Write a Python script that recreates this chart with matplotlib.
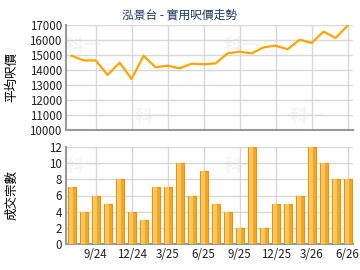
import matplotlib
matplotlib.use("Agg")
import matplotlib.pyplot as plt
import numpy as np

plt.rcParams['font.family'] = ['Noto Sans CJK TC', 'DejaVu Sans']

# monthly data, 7/24 .. 6/26
months = ['7/24', '8/24', '9/24', '10/24', '11/24', '12/24', '1/25', '2/25',
          '3/25', '4/25', '5/25', '6/25', '7/25', '8/25', '9/25', '10/25',
          '11/25', '12/25', '1/26', '2/26', '3/26', '4/26', '5/26', '6/26']
price = [14950, 14640, 14640, 13670, 14490, 13400, 14950, 14180,
         14290, 14110, 14420, 14380, 14440, 15110, 15220, 15110,
         15510, 15620, 15380, 16020, 15800, 16560, 16130, 16960]
deals = [7, 4, 6, 5, 8, 4, 3, 7, 7, 10, 6, 9,
         5, 4, 2, 12, 2, 5, 5, 6, 12, 10, 8, 8]
tick_labels = ['9/24', '12/24', '3/25', '6/25', '9/25', '12/25', '3/26', '6/26']

x = np.arange(len(months))
tick_pos = [months.index(t) for t in tick_labels]

fig = plt.figure(figsize=(3.6, 2.7), dpi=100)
ax1 = fig.add_axes([66/360, 1-130/270, 287/360, 105/270])
ax2 = fig.add_axes([66/360, 1-244/270, 287/360, 97/270])

grid_c = '#d8d8d8'
spine_c = '#999999'
tick_fs = 8.3

def style(ax):
    for s in ['top', 'right']:
        ax.spines[s].set_visible(False)
    for s in ['left', 'bottom']:
        ax.spines[s].set_color(spine_c)
        ax.spines[s].set_linewidth(1.5)
    ax.grid(True, color=grid_c, linewidth=1)
    ax.set_axisbelow(True)
    ax.tick_params(length=0, labelsize=tick_fs, colors='#222222', pad=3)
    ax.set_xlim(-0.47, 23.45)
    ax.set_xticks(tick_pos)
    # faint watermark
    for wx, wy in [(0.0, 0.75), (0.55, 0.75), (0.24, 0.08), (0.78, 0.08)]:
        ax.text(wx, wy, '科一', transform=ax.transAxes, fontsize=13,
                color='#f4f4f4', fontweight='bold', zorder=0)

# price line
style(ax1)
ax1.plot(x, price, color='#ffa500', linewidth=1.6, zorder=3)
ax1.set_ylim(10000, 17000)
ax1.set_yticks(range(10000, 17001, 1000))
ax1.set_xticklabels([])
ax1.set_ylabel('平均呎價', fontsize=9)
ax1.yaxis.set_label_coords(-0.165, 0.5)

# deals bars
style(ax2)
ax2.bar(x, deals, width=0.68, color='#f5a623', edgecolor='#e8940a',
        linewidth=0.8, zorder=3)
ax2.bar(x - 0.06, deals, width=0.3, color='#fcc760', linewidth=0, zorder=4)
ax2.set_ylim(0, 12)
ax2.set_yticks(range(0, 13, 2))
ax2.set_xticklabels(tick_labels)
ax2.set_ylabel('成交宗數', fontsize=9)
ax2.yaxis.set_label_coords(-0.165, 0.5)

fig.text(0.5, 1-15/270, '泓景台 - 實用呎價走勢', ha='center', va='center',
         fontsize=8.5, color='#1f3a5f')

fig.savefig('out.png', dpi=100)
